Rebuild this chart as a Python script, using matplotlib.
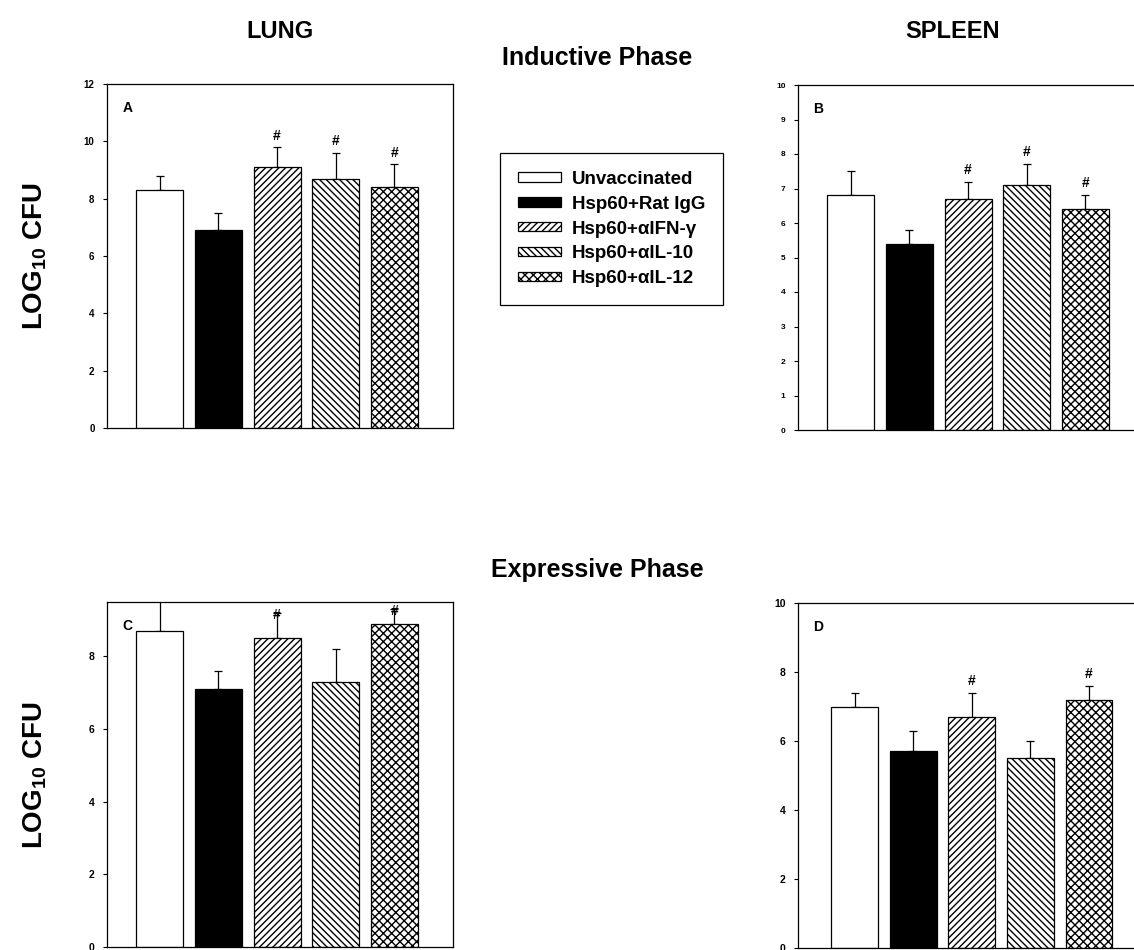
import numpy as np
from matplotlib import pyplot as plt
from matplotlib.patches import Patch

plt.rcParams['font.family'] = ['Liberation Sans', 'DejaVu Sans']
plt.rcParams['font.weight'] = 'bold'
plt.rcParams['hatch.linewidth'] = 1.0
plt.rcParams['mathtext.fontset'] = 'custom'
plt.rcParams['mathtext.bf'] = 'Liberation Sans:bold'
plt.rcParams['mathtext.rm'] = 'Liberation Sans:bold'

groups = ['Unvaccinated', 'Hsp60+Rat IgG', 'Hsp60+\u03b1IFN-\u03b3', 'Hsp60+\u03b1IL-10', 'Hsp60+\u03b1IL-12']

# log10 CFU, mean and upper error bar (SE)
lung_ind = [8.3, 6.9, 9.1, 8.7, 8.4]
lung_ind_err = [0.5, 0.6, 0.7, 0.9, 0.8]
lung_ind_sig = [False, False, True, True, True]

spleen_ind = [6.8, 5.4, 6.7, 7.1, 6.4]
spleen_ind_err = [0.7, 0.4, 0.5, 0.6, 0.4]
spleen_ind_sig = [False, False, True, True, True]

lung_exp = [8.7, 7.1, 8.5, 7.3, 8.9]
lung_exp_err = [1.1, 0.5, 0.7, 0.9, 0.4]
lung_exp_sig = [False, False, True, False, True]

spleen_exp = [7.0, 5.7, 6.7, 5.5, 7.2]
spleen_exp_err = [0.4, 0.6, 0.7, 0.5, 0.4]
spleen_exp_sig = [False, False, True, False, True]

colors = ['white', 'black', 'white', 'white', 'white']
hatches = ['', '', '/////', '\\\\\\\\\\', 'xxxx']

W, H = 1134, 950


def px_axes(fig, x0, x1, y0, y1):
    # pixel box (top-left origin) -> figure fraction
    return fig.add_axes([x0 / W, 1 - y1 / H, (x1 - x0) / W, (y1 - y0) / H])


def panel(ax, vals, errs, sig, letter, ymax, yticks, xlim, ticksize=7, hash_off=0.25):
    x = np.arange(1, len(vals) + 1)
    ax.bar(x, vals, 0.8, color=colors, edgecolor='black', linewidth=0.9,
           hatch=hatches, zorder=2)
    ax.errorbar(x, vals, yerr=[np.zeros(len(errs)), errs], fmt='none',
                ecolor='black', elinewidth=0.9, capsize=3, capthick=0.9, zorder=1)
    for xi, v, e, s in zip(x, vals, errs, sig):
        if s:
            ax.text(xi, v + e + hash_off, '#', ha='center', va='center',
                    fontsize=10, fontweight='bold', clip_on=False)
    ax.set_xlim(*xlim)
    ax.set_ylim(0, ymax)
    ax.set_yticks(yticks)
    ax.set_xticks([])
    ax.tick_params(axis='y', direction='out', length=3, width=0.8,
                   labelsize=ticksize, pad=6)
    for lbl in ax.get_yticklabels():
        lbl.set_fontweight('bold')
    for sp in ax.spines.values():
        sp.set_linewidth(0.9)
    ax.text(0.045, 0.93, letter, transform=ax.transAxes, fontsize=10,
            fontweight='bold', ha='left', va='center')


fig = plt.figure(figsize=(W / 100, H / 100), dpi=100)

axA = px_axes(fig, 107, 453, 84, 428)
panel(axA, lung_ind, lung_ind_err, lung_ind_sig, 'A', 12, range(0, 13, 2), (0.1, 6.0), ticksize=7, hash_off=0.4)

axB = px_axes(fig, 798, 1144, 85, 430)
panel(axB, spleen_ind, spleen_ind_err, spleen_ind_sig, 'B', 10, range(0, 11), (0.1, 6.0), ticksize=6, hash_off=0.35)

axC = px_axes(fig, 107, 453, 602, 947)
panel(axC, lung_exp, lung_exp_err, lung_exp_sig, 'C', 9.5, range(0, 9, 2), (0.1, 6.0), ticksize=7.5, hash_off=-0.05)

axD = px_axes(fig, 798, 1144, 603, 948)
panel(axD, spleen_exp, spleen_exp_err, spleen_exp_sig, 'D', 10, range(0, 11, 2), (0.03, 5.94), ticksize=7.5, hash_off=0.35)

# headings
fig.text(280 / W, 1 - 32 / H, 'LUNG', ha='center', va='center', fontsize=17, fontweight='bold')
fig.text(953 / W, 1 - 32 / H, 'SPLEEN', ha='center', va='center', fontsize=17, fontweight='bold')
fig.text(597 / W, 1 - 58 / H, 'Inductive Phase', ha='center', va='center', fontsize=18, fontweight='bold')
fig.text(597 / W, 1 - 570 / H, 'Expressive Phase', ha='center', va='center', fontsize=18, fontweight='bold')
ylab = r'LOG$_{\mathbf{10}}$ CFU'
fig.text(35 / W, 1 - 256 / H, ylab, rotation=90, ha='center', va='center', fontsize=20, fontweight='bold')
fig.text(35 / W, 1 - 775 / H, ylab, rotation=90, ha='center', va='center', fontsize=20, fontweight='bold')

handles = [Patch(facecolor=c, edgecolor='black', hatch=h, linewidth=0.9)
           for c, h in zip(colors, hatches)]
leg = fig.legend(handles, groups, loc='upper left', bbox_to_anchor=(500 / W, 1 - 153 / H),
                 frameon=True, fancybox=False, edgecolor='black', framealpha=1,
                 prop={'weight': 'bold', 'size': 13.5}, handlelength=2.3, handleheight=0.38,
                 labelspacing=0.42, borderpad=0.95, handletextpad=0.6, borderaxespad=0)
leg.get_frame().set_linewidth(0.9)

fig.savefig('out.png', dpi=100)
